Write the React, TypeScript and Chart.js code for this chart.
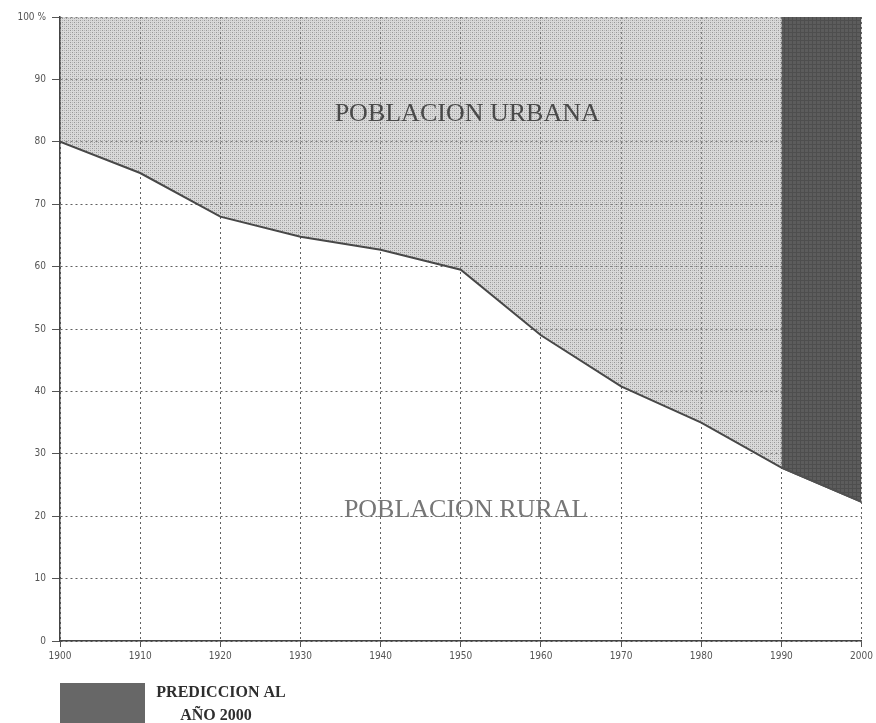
import React, { useEffect, useRef } from "react";
import { Chart, registerables } from "chart.js";

Chart.register(...registerables);

const years = [1900, 1910, 1920, 1930, 1940, 1950, 1960, 1970, 1980, 1990, 2000];
const ruralPct = [80, 75, 68, 64.8, 62.7, 59.5, 49, 40.8, 35, 27.8, 22.3];
const predictionStartYear = 1990;
const yTickLabels: Record<number, string> = { 100: "100 %" };
const urbanLabel = "POBLACION URBANA";
const ruralLabel = "POBLACION RURAL";
const legendLines = ["PREDICCION AL", "AÑO 2000"];

function makeStipple(): CanvasPattern | string {
  const c = document.createElement("canvas");
  c.width = 4;
  c.height = 4;
  const g = c.getContext("2d");
  if (!g) return "rgba(160,160,160,0.45)";
  g.fillStyle = "rgba(165,165,165,0.42)";
  g.fillRect(0, 0, 4, 4);
  g.fillStyle = "rgba(85,85,85,0.5)";
  g.fillRect(0, 0, 1, 1);
  g.fillRect(2, 2, 1, 1);
  g.fillStyle = "rgba(110,110,110,0.3)";
  g.fillRect(2, 0, 1, 1);
  g.fillRect(0, 2, 1, 1);
  const p = g.createPattern(c, "repeat");
  return p || "rgba(160,160,160,0.45)";
}

function makeDark(): CanvasPattern | string {
  const c = document.createElement("canvas");
  c.width = 4;
  c.height = 4;
  const g = c.getContext("2d");
  if (!g) return "#585858";
  g.fillStyle = "#5c5c5c";
  g.fillRect(0, 0, 4, 4);
  g.fillStyle = "#4e4e4e";
  g.fillRect(0, 0, 1, 4);
  g.fillRect(0, 0, 4, 1);
  const p = g.createPattern(c, "repeat");
  return p || "#585858";
}

const textPlugin = {
  id: "annotTexts",
  afterDatasetsDraw(chart: any) {
    const { ctx, scales } = chart;
    const xs = scales.x;
    const ys = scales.y;
    ctx.save();
    ctx.textAlign = "center";
    ctx.textBaseline = "middle";
    ctx.fillStyle = "#4a4a4a";
    ctx.font = "26px 'Liberation Serif'";
    ctx.fillText(urbanLabel, xs.getPixelForValue(1950.8), ys.getPixelForValue(84.4));
    ctx.fillStyle = "#767676";
    ctx.font = "26px 'Liberation Serif'";
    ctx.fillText(ruralLabel, xs.getPixelForValue(1950.6), ys.getPixelForValue(21.0));
    ctx.restore();
  },
  afterDraw(chart: any) {
    const { ctx, chartArea } = chart;
    ctx.save();
    const bx = chartArea.left;
    const by = chartArea.bottom + 42;
    ctx.fillStyle = "#676767";
    ctx.fillRect(bx, by, 85, 50);
    ctx.fillStyle = "#2e2e2e";
    ctx.font = "bold 16px 'Liberation Serif'";
    ctx.textAlign = "center";
    ctx.textBaseline = "middle";
    ctx.fillText(legendLines[0], bx + 161, by + 10);
    ctx.fillText(legendLines[1], bx + 156, by + 33);
    ctx.restore();
  },
};

export default function App() {
  const ref = useRef<HTMLCanvasElement | null>(null);
  useEffect(() => {
    if (!ref.current) return;
    const rural = years.map((y, i) => ({ x: y, y: ruralPct[i] }));
    const prediction = rural.filter((p) => p.x >= predictionStartYear);
    const chart = new Chart(ref.current, {
      type: "line",
      data: {
        datasets: [
          {
            label: "Predicción",
            data: prediction,
            borderColor: "#505050",
            borderWidth: 2,
            backgroundColor: makeDark() as any,
            fill: "end",
            pointRadius: 0,
            tension: 0,
          },
          {
            label: "Población rural",
            data: rural,
            borderColor: "#484848",
            borderWidth: 2,
            backgroundColor: makeStipple() as any,
            fill: "end",
            pointRadius: 0,
            tension: 0,
          },
        ],
      },
      options: {
        animation: false,
        responsive: false,
        layout: { padding: { left: 0, top: 17, right: 14, bottom: 58 } },
        plugins: { legend: { display: false }, tooltip: { enabled: false } },
        scales: {
          x: {
            type: "linear",
            min: 1900,
            max: 2000,
            afterFit: (s: any) => {
              s.height = 24;
            },
            ticks: {
              stepSize: 10,
              callback: (v: any) => String(v),
              color: "#555",
              font: { family: "'DejaVu Sans Condensed'", size: 10 },
              padding: 3,
              maxRotation: 0,
            },
            grid: {
              color: "#606060",
              lineWidth: 1,
              tickLength: 6,
              tickColor: "#555",
              tickBorderDash: [],
            },
            border: { display: true, color: "#444", width: 1.5, dash: [2, 3], z: 1 },
          },
          y: {
            min: 0,
            max: 100,
            afterFit: (s: any) => {
              s.width = 60;
            },
            ticks: {
              stepSize: 10,
              callback: (v: any) => yTickLabels[v] ?? String(v),
              color: "#555",
              font: { family: "'DejaVu Sans Condensed'", size: 10 },
              padding: 6,
            },
            grid: {
              color: "#606060",
              lineWidth: 1,
              tickLength: 8,
              tickColor: "#555",
              tickBorderDash: [],
            },
            border: { display: true, color: "#444", width: 1.5, dash: [2, 3], z: 1 },
          },
        },
      },
      plugins: [textPlugin],
    });
    return () => chart.destroy();
  }, []);
  return (
    <div style={{ position: "fixed", left: 0, top: 0, width: 876, height: 723, background: "#fff" }}>
      <canvas ref={ref} width={876} height={723} />
    </div>
  );
}
